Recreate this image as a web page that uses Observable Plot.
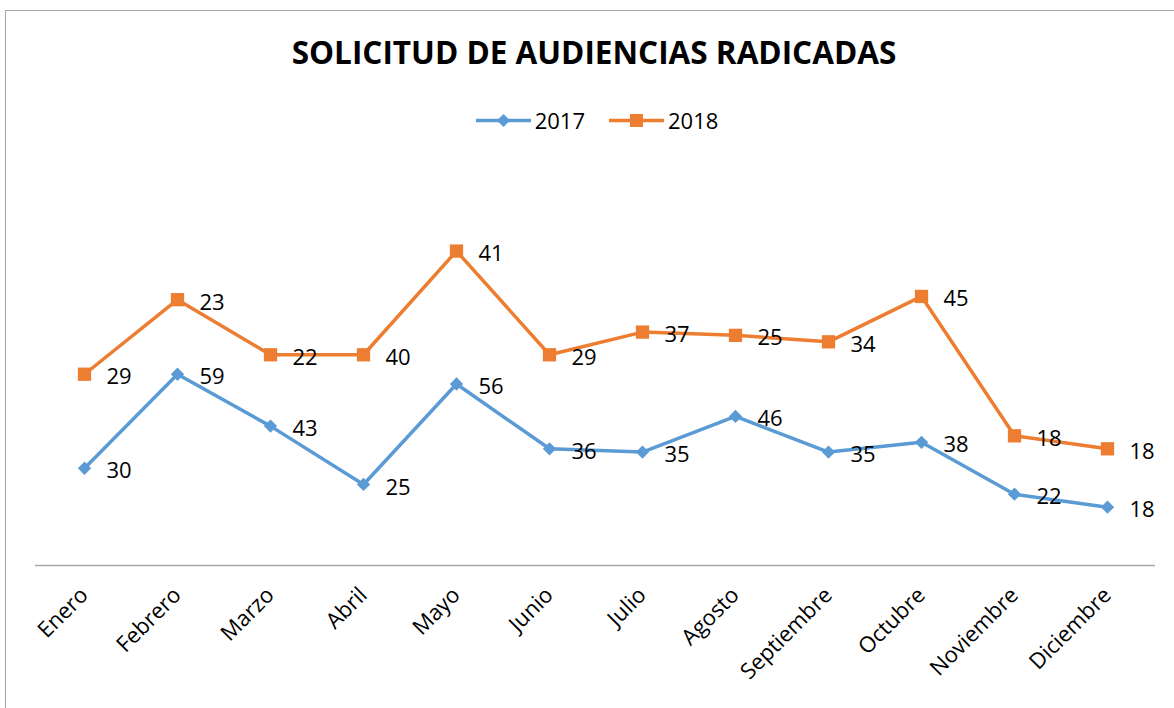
<!DOCTYPE html>
<html>
<head>
<meta charset="utf-8">
<script src="https://cdn.jsdelivr.net/npm/d3@7"></script>
<script src="https://cdn.jsdelivr.net/npm/@observablehq/plot@0.6"></script>
<style>
  html, body { margin: 0; padding: 0; background: #fff; }
  body { width: 1174px; height: 708px; overflow: hidden; position: relative; font-family: "Open Sans", sans-serif; }
  #frame { position: absolute; left: 5px; top: 10px; width: 1300px; height: 800px; border-left: 1px solid #a6a6a6; border-top: 1px solid #a6a6a6; pointer-events: none; }
  #title { height: 95px; box-sizing: border-box; padding-top: 36px; padding-left: 14px; text-align: center; font-weight: 700; font-size: 31.5px; line-height: 31px; color: #000; white-space: nowrap; }
  #legend { height: 50px; display: flex; align-items: center; justify-content: center; padding-left: 20px; box-sizing: border-box; font-size: 22px; color: #000; }
  #legend .item { display: flex; align-items: center; margin: 0 12px; }
  #legend svg { margin-right: 4px; }
  #chart svg { display: block; }
</style>
</head>
<body>
<div id="frame"></div>
<div id="title">SOLICITUD DE AUDIENCIAS RADICADAS</div>
<div id="legend"></div>
<div id="chart"></div>
<script>
const meses = ["Enero","Febrero","Marzo","Abril","Mayo","Junio","Julio","Agosto","Septiembre","Octubre","Noviembre","Diciembre"];
const series = ["2017", "2018"];
const v2017 = [30, 59, 43, 25, 56, 36, 35, 46, 35, 38, 22, 18];
const v2018 = [29, 23, 22, 40, 41, 29, 37, 25, 34, 45, 18, 18];
const colores = ["#5B9BD5", "#ED7D31"];
const simbolos = ["diamond2", "square"];
const radios = [6, 7.5];

const table = [];
series.forEach((s, si) => {
  const vals = si === 0 ? v2017 : v2018;
  meses.forEach((m, i) => table.push({mes: m, serie: s, valor: vals[i], r: radios[si]}));
});

// Legend
const legend = document.getElementById("legend");
series.forEach((s, i) => {
  const item = document.createElement("div");
  item.className = "item";
  const marker = i === 0
    ? `<polygon points="27.5,1 34,7.5 27.5,14 21,7.5" fill="${colores[i]}"/>`
    : `<rect x="21" y="1" width="13" height="13" fill="${colores[i]}"/>`;
  item.innerHTML = `<svg width="55" height="15"><line x1="0" x2="55" y1="7.5" y2="7.5" stroke="${colores[i]}" stroke-width="3.5"/>${marker}</svg><span>${s}</span>`;
  legend.appendChild(item);
});

const stackOpts = {x: "mes", y: "valor", z: "serie"};

const chart = Plot.plot({
  width: 1174,
  height: 563,
  marginTop: 31,
  marginBottom: 143,
  marginLeft: 35,
  marginRight: 19,
  style: {fontFamily: "Open Sans, sans-serif", color: "#000", background: "transparent", overflow: "visible"},
  x: {type: "point", domain: meses, padding: 0.5, label: null},
  y: {domain: [0, 120], axis: null},
  color: {domain: series, range: colores},
  symbol: {domain: series, range: simbolos},
  r: {type: "identity"},
  marks: [
    Plot.ruleY([0], {stroke: "#a6a6a6", strokeWidth: 1.5}),
    Plot.axisX({tickSize: 0, tickRotate: -45, tickPadding: 26, fontSize: 22, fill: "#000", label: null}),
    Plot.lineY(table, Plot.stackY2({...stackOpts, stroke: "serie", strokeWidth: 3.5})),
    Plot.dot(table, Plot.stackY2({...stackOpts, symbol: "serie", r: "r", fill: "serie", stroke: null})),
    Plot.text(table, Plot.stackY2({...stackOpts, text: "valor", textAnchor: "start", dx: 22, dy: 3, fontSize: 22, fill: "#000"}))
  ]
});
document.getElementById("chart").appendChild(chart);
</script>
</body>
</html>
